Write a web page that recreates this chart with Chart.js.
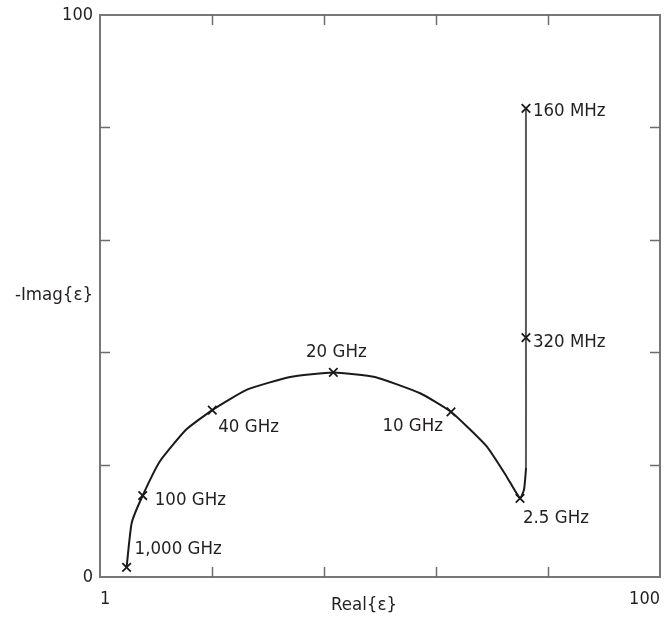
<!DOCTYPE html>
<html>
<head>
<meta charset="utf-8">
<script src="https://cdn.jsdelivr.net/npm/chart.js@4.4.1/dist/chart.umd.min.js"></script>
<style>
  body { margin: 0; background: #fff; }
  #wrap { width: 668px; height: 624px; }
</style>
</head>
<body>
<div id="wrap"><canvas id="coleChart" width="668" height="624"></canvas></div>
<script>
// Datos (Real{e}, -Imag{e})
const realVals = [5.7, 6.6, 8.55, 11.6, 16.2, 20.85, 26.9, 34.6, 42.25, 49.6, 57.6, 63.05, 69.4, 72.9, 75.25, 75.95, 76.3, 76.3, 76.3];
const imagVals = [1.7, 9.6, 14.5, 20.6, 26.2, 29.7, 33.3, 35.6, 36.4, 35.6, 32.7, 29.4, 23.2, 17.85, 14.0, 15.5, 19.4, 42.6, 83.4];
const freqLabels = ["1,000 GHz", "", "100 GHz", "", "", "40 GHz", "", "", "20 GHz", "", "", "10 GHz", "", "", "2.5 GHz", "", "", "320 MHz", "160 MHz"];

// Ticks de los ejes
const xTicks = [1, 20.8, 40.6, 60.4, 80.2, 100];
const yTicks = [0, 20, 40, 60, 80, 100];
const xTickLabels = ["1", "", "", "", "", "100"];
const yTickLabels = ["0", "", "", "", "", "100"];

const FONT = "'Liberation Sans Narrow', 'DejaVu Sans Condensed', 'Roboto', sans-serif";

// Donde poner cada etiqueta respecto a su marca: [dx, dy, align]
const labelPlace = {
  "1,000 GHz": [8, -18, "left"],
  "100 GHz": [12, 5, "left"],
  "40 GHz": [6, 17, "left"],
  "20 GHz": [3, -20, "center"],
  "10 GHz": [-8, 14, "right"],
  "2.5 GHz": [3, 20, "left"],
  "320 MHz": [7, 5, "left"],
  "160 MHz": [7, 3, "left"],
};

// Marcas hacia dentro en los cuatro lados + textos
const annotate = {
  id: "annotate",
  afterDraw(chart) {
    const ctx = chart.ctx;
    const a = chart.chartArea;
    const xs = chart.scales.x;
    const ys = chart.scales.y;
    ctx.save();
    ctx.strokeStyle = "#6d6d6d";
    ctx.lineWidth = 1.5;
    xTicks.slice(1, -1).forEach((v) => {
      const px = Math.round(xs.getPixelForValue(v)) + 0.5;
      ctx.beginPath();
      ctx.moveTo(px, a.bottom); ctx.lineTo(px, a.bottom - 10);
      ctx.moveTo(px, a.top); ctx.lineTo(px, a.top + 10);
      ctx.stroke();
    });
    yTicks.slice(1, -1).forEach((v) => {
      const py = Math.round(ys.getPixelForValue(v)) + 0.5;
      ctx.beginPath();
      ctx.moveTo(a.left, py); ctx.lineTo(a.left + 10, py);
      ctx.moveTo(a.right, py); ctx.lineTo(a.right - 10, py);
      ctx.stroke();
    });

    ctx.fillStyle = "#231f20";
    ctx.font = "18.5px " + FONT;
    ctx.textBaseline = "middle";
    freqLabels.forEach((lab, i) => {
      if (!lab) return;
      const p = labelPlace[lab];
      ctx.textAlign = p[2];
      ctx.fillText(lab, xs.getPixelForValue(realVals[i]) + p[0], ys.getPixelForValue(imagVals[i]) + p[1]);
    });

    // titulos de los ejes
    ctx.textAlign = "center";
    ctx.fillText("Real{\u03b5}", a.left + 264, a.bottom + 28);
    ctx.textAlign = "right";
    ctx.fillText("-Imag{\u03b5}", a.left - 7, ys.getPixelForValue(50) - 1);
    ctx.restore();
  },
};

const ctx = document.getElementById("coleChart").getContext("2d");
const coleChart = new Chart(ctx, {
  type: "scatter",
  data: {
    datasets: [
      {
        data: realVals.map((x, i) => ({ x: x, y: imagVals[i] })),
        showLine: true,
        borderColor: "#1a1a1a",
        borderWidth: 2,
        tension: 0.15,
        segment: {
          borderColor: (c) => (c.p0DataIndex >= 16 ? "#5a5a5a" : "#1a1a1a"),
        },
        pointStyle: "crossRot",
        pointRadius: freqLabels.map((l) => (l ? 6 : 0)),
        pointBorderColor: "#1a1a1a",
        pointBorderWidth: 1.8,
        pointHoverRadius: 0,
      },
    ],
  },
  options: {
    responsive: false,
    animation: false,
    layout: { padding: { left: 0, right: 8, top: 15, bottom: 0 } },
    plugins: { legend: { display: false }, tooltip: { enabled: false } },
    scales: {
      x: {
        type: "linear",
        min: 1,
        max: 100,
        afterBuildTicks: (s) => { s.ticks = xTicks.map((v) => ({ value: v })); },
        afterFit: (s) => { s.height = 47; s.paddingLeft = 0; s.paddingRight = 0; },
        grid: { display: false, drawTicks: false },
        border: { display: true, color: "#777", width: 2 },
        ticks: {
          padding: 12,
          align: "inner",
          maxRotation: 0,
          color: "#231f20",
          font: { family: FONT, size: 18 },
          callback: (v, i) => xTickLabels[i],
        },
      },
      y: {
        min: 0,
        max: 100,
        afterBuildTicks: (s) => { s.ticks = yTicks.map((v) => ({ value: v })); },
        afterFit: (s) => { s.width = 100; s.paddingTop = 0; s.paddingBottom = 0; },
        grid: { display: false, drawTicks: false },
        border: { display: true, color: "#777", width: 2 },
        ticks: {
          padding: 7,
          color: "#231f20",
          font: { family: FONT, size: 18 },
          callback: (v, i) => yTickLabels[i],
        },
      },
      x2: {
        type: "linear", position: "top", min: 1, max: 100,
        grid: { display: false, drawTicks: false },
        border: { display: true, color: "#777", width: 2 },
        ticks: { display: false },
        afterFit: (s) => { s.height = 0; s.paddingLeft = 0; s.paddingRight = 0; },
      },
      y2: {
        type: "linear", position: "right", min: 0, max: 100,
        grid: { display: false, drawTicks: false },
        border: { display: true, color: "#777", width: 2 },
        ticks: { display: false },
        afterFit: (s) => { s.width = 0; },
      },
    },
  },
  plugins: [annotate],
});
</script>
</body>
</html>
